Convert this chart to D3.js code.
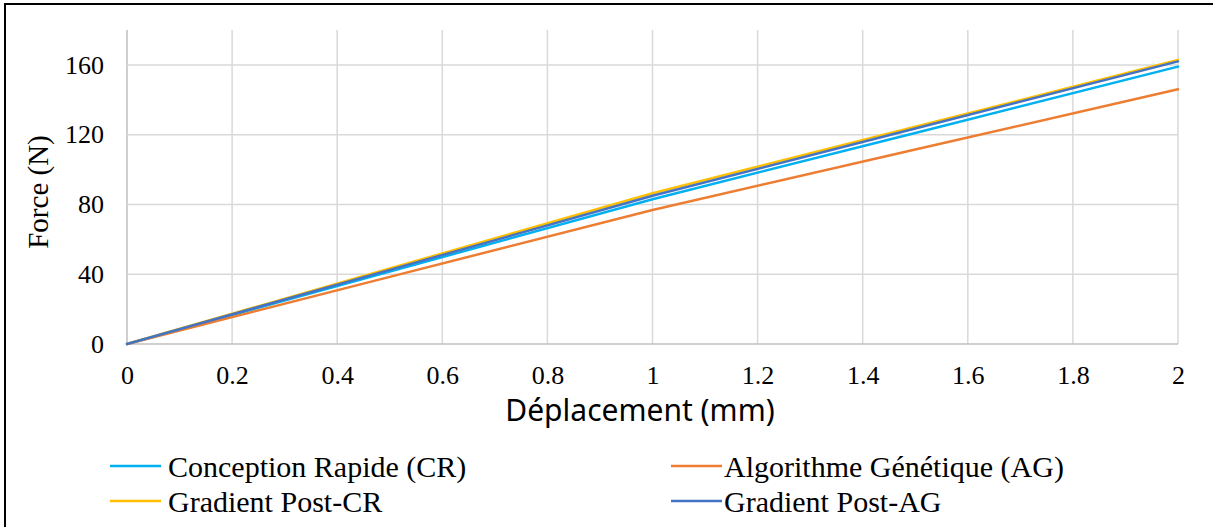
<!DOCTYPE html>
<html><head><meta charset="utf-8">
<script src="https://cdn.jsdelivr.net/npm/d3@7"></script>
<style>body{margin:0;background:#fff}svg{display:block}</style>
</head><body>
<script>
const xValues = [0, 0.5, 1, 1.5, 2];
const seriesNames = ["Conception Rapide (CR)", "Algorithme Génétique (AG)", "Gradient Post-CR", "Gradient Post-AG"];
const crValues = [0, 41.5, 83, 121, 159];
const agValues = [0, 38.5, 76.8, 111.5, 146];
const postCrValues = [0, 43.3, 86.4, 124.5, 162.8];
const postAgValues = [0, 42.5, 85, 123.5, 162];
const xTicks = [0, 0.2, 0.4, 0.6, 0.8, 1, 1.2, 1.4, 1.6, 1.8, 2];
const yTicks = [0, 40, 80, 120, 160];
const colors = ["#00B0F0", "#ED7D31", "#FFC000", "#4472C4"];

const SERIF = "'Liberation Serif', 'Times New Roman', serif";
const W = 1213, H = 527;
const svg = d3.select("body").append("svg").attr("width", W).attr("height", H);
svg.append("rect").attr("x", 5).attr("y", 4).attr("width", W + 20).attr("height", H + 20)
  .attr("fill", "#fff").attr("stroke", "#000").attr("stroke-width", 2);

const x = d3.scaleLinear().domain([0, 2]).range([127, 1178]);
const y = d3.scaleLinear().domain([0, 180]).range([344, 30]);

const g = svg.append("g");
g.selectAll(".vg").data(xTicks).join("line")
  .attr("x1", d => x(d)).attr("x2", d => x(d)).attr("y1", y(0)).attr("y2", y(180))
  .attr("stroke", d => d === 0 ? "#bfbfbf" : "#d9d9d9").attr("stroke-width", 1.5);
g.selectAll(".hg").data(yTicks).join("line")
  .attr("x1", x(0)).attr("x2", x(2)).attr("y1", d => y(d)).attr("y2", d => y(d))
  .attr("stroke", d => d === 0 ? "#bfbfbf" : "#d9d9d9").attr("stroke-width", 1.5);

const xAxis = svg.append("g").attr("transform", `translate(0,${y(0)})`)
  .style("font-family", SERIF).style("font-size", "26px")
  .call(d3.axisBottom(x).tickValues(xTicks).tickSize(0).tickPadding(22).tickFormat(d3.format("~g")));
xAxis.select(".domain").remove();
xAxis.selectAll("text").style("font-family", SERIF).style("font-size", "26px").attr("fill", "#000");

const yAxis = svg.append("g").attr("transform", `translate(${x(0)},0)`)
  .style("font-family", SERIF).style("font-size", "26px")
  .call(d3.axisLeft(y).tickValues(yTicks).tickSize(0).tickPadding(23));
yAxis.select(".domain").remove();
yAxis.selectAll("text").style("font-family", SERIF).style("font-size", "26px").attr("fill", "#000");

svg.append("text").attr("x", 640).attr("y", 421).attr("text-anchor", "middle")
  .style("font-family", "'Noto Sans', 'Open Sans', sans-serif").style("font-size", "30px").attr("fill", "#000")
  .text("Déplacement (mm)");
svg.append("text").attr("transform", "translate(48,192) rotate(-90)").attr("text-anchor", "middle")
  .style("font-family", SERIF).style("font-size", "29px").attr("fill", "#000")
  .text("Force (N)");

const allSeries = [crValues, agValues, postCrValues, postAgValues];
const line = d3.line().x((d, i) => x(xValues[i])).y(d => y(d));
svg.append("g").selectAll("path").data(allSeries).join("path")
  .attr("d", line).attr("fill", "none").attr("stroke", (d, i) => colors[i])
  .attr("stroke-width", 2.5).attr("stroke-linejoin", "round").attr("stroke-linecap", "round");

const legPos = [[110, 466], [671, 466], [110, 501], [671, 501]];
const leg = svg.append("g").selectAll("g").data(seriesNames).join("g")
  .attr("transform", (d, i) => `translate(${legPos[i][0]},${legPos[i][1]})`);
leg.append("line").attr("x1", 0).attr("x2", 51).attr("stroke", (d, i) => colors[i]).attr("stroke-width", 2.5);
leg.append("text").attr("x", (d, i) => i % 2 === 0 ? 58 : 53).attr("dy", "0.35em")
  .style("font-family", SERIF).style("font-size", "30px").attr("fill", "#000")
  .text(d => d);
</script>
</body></html>
